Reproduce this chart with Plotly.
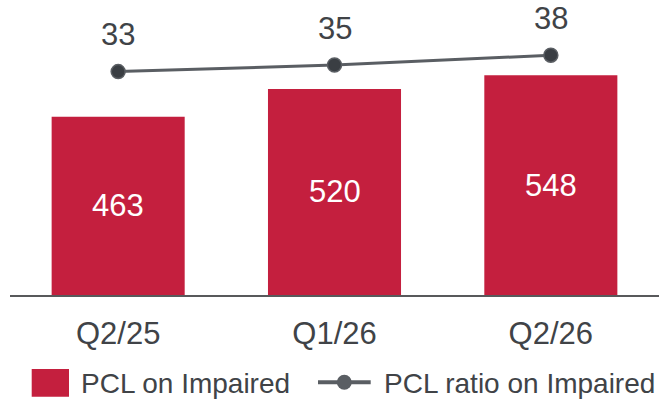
import plotly.graph_objects as go

# Quarterly provisions for credit losses on impaired loans
quarters = ["Q2/25", "Q1/26", "Q2/26"]
pcl_impaired = [463, 520, 548]          # bars (left axis)
pcl_ratio = [33, 35, 38]                # line (right axis)

BAR_COLOR = "#C41F3E"
LINE_COLOR = "#5A5E63"
MARKER_COLOR = "#3A3E43"
TEXT_COLOR = "#404347"
FONT = "Liberation Sans, Arial, sans-serif"

W, H = 659, 402
M_L, M_R, M_T, M_B = 10, 0, 0, 107
PLOT_W = W - M_L - M_R
PLOT_H = H - M_T - M_B

Y_MIN, Y_MAX = 96, 703          # bar axis range
Y2_MIN, Y2_MAX = -35, 54.8      # ratio axis range


def paper_x(px):
    return (px - M_L) / PLOT_W


def paper_y(py):
    return (M_T + PLOT_H - py) / PLOT_H


fig = go.Figure()

fig.add_trace(go.Bar(
    x=quarters, y=pcl_impaired, name="PCL on Impaired",
    marker=dict(color=BAR_COLOR, line=dict(width=0)),
    showlegend=False,
))

# bar values centred in the visible part of each bar
for q, v in zip(quarters, pcl_impaired):
    fig.add_annotation(
        x=q, y=(Y_MIN + v) / 2, yref="y", text=str(v), showarrow=False,
        yanchor="middle",
        font=dict(family=FONT, size=31, color="white"),
    )

fig.add_trace(go.Scatter(
    x=quarters, y=pcl_ratio, name="PCL ratio on Impaired", yaxis="y2",
    mode="lines+markers",
    line=dict(color=LINE_COLOR, width=3),
    marker=dict(size=14, color=MARKER_COLOR, line=dict(color=LINE_COLOR, width=1.5)),
    showlegend=False,
))

# value labels above the ratio line
for q, v in zip(quarters, pcl_ratio):
    fig.add_annotation(
        x=q, y=v, yref="y2", text=str(v), showarrow=False,
        yanchor="middle", yshift=37,
        font=dict(family=FONT, size=31, color=TEXT_COLOR),
    )

# legend drawn below the axis
fig.add_shape(type="rect", xref="paper", yref="paper",
              x0=paper_x(31.7), x1=paper_x(69), y0=paper_y(396.7), y1=paper_y(369),
              fillcolor=BAR_COLOR, line=dict(width=0))
fig.add_annotation(xref="paper", yref="paper", x=paper_x(79), y=paper_y(383.3),
                   xanchor="left", yanchor="middle", showarrow=False,
                   text="PCL on Impaired",
                   font=dict(family=FONT, size=28, color=TEXT_COLOR))
fig.add_shape(type="line", xref="paper", yref="paper",
              x0=paper_x(318), x1=paper_x(370.7), y0=paper_y(382.3), y1=paper_y(382.3),
              line=dict(color=LINE_COLOR, width=4))
fig.add_shape(type="circle", xref="paper", yref="paper",
              x0=paper_x(336.8), x1=paper_x(351.8), y0=paper_y(389.8), y1=paper_y(374.8),
              fillcolor=LINE_COLOR, line=dict(width=0))
fig.add_annotation(xref="paper", yref="paper", x=paper_x(382), y=paper_y(383.3),
                   xanchor="left", yanchor="middle", showarrow=False,
                   text="PCL ratio on Impaired",
                   font=dict(family=FONT, size=28, color=TEXT_COLOR))

fig.update_layout(
    width=W, height=H,
    margin=dict(l=M_L, r=M_R, t=M_T, b=M_B, pad=0),
    paper_bgcolor="white", plot_bgcolor="white",
    bargap=0.385,
    font=dict(family=FONT, color=TEXT_COLOR),
    xaxis=dict(
        type="category", range=[-0.5, 2.5],
        showline=True, linecolor="#58595B", linewidth=2,
        ticks="", showgrid=False, zeroline=False,
        tickfont=dict(family=FONT, size=31, color=TEXT_COLOR),
        ticklabelstandoff=10,
    ),
    yaxis=dict(range=[Y_MIN, Y_MAX], visible=False, showgrid=False, zeroline=False),
    yaxis2=dict(range=[Y2_MIN, Y2_MAX], overlaying="y", side="right",
                visible=False, showgrid=False, zeroline=False),
    showlegend=False,
)

fig.write_html("out.html")
